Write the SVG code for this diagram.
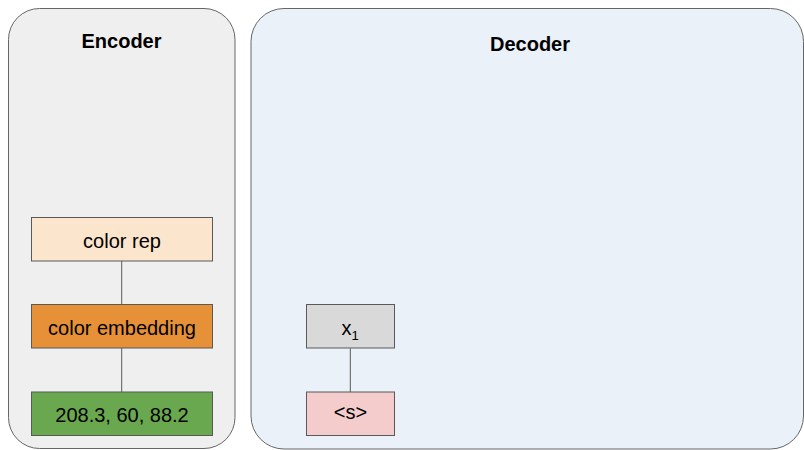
<svg xmlns="http://www.w3.org/2000/svg" width="804" height="450" viewBox="0 0 804 450">
<style>
.panel{stroke:#666666;stroke-width:1}
.box{stroke:#595959;stroke-width:1}
.t{font-family:"Liberation Sans",Arial,sans-serif;font-size:20px;fill:#000;text-anchor:middle}
.h{font-family:"Liberation Sans",Arial,sans-serif;font-size:20px;font-weight:bold;fill:#000;text-anchor:middle}
.c{stroke:#595959;stroke-width:1;fill:none}
</style>
<rect width="804" height="450" fill="#ffffff"/>
<g id="encoder">
<rect class="panel" x="8.5" y="8.5" width="226.5" height="440" rx="31" ry="31" fill="#efefef"/>
<text class="h" x="121.5" y="47.5">Encoder</text>
</g>
<g id="decoder">
<rect class="panel" x="251" y="8.5" width="552.5" height="440.5" rx="33" ry="33" fill="#eaf1f9"/>
<text class="h" x="530" y="50.5">Decoder</text>
</g>
<g id="connectors">
<line class="c" x1="121.7" y1="261" x2="121.7" y2="304.5"/>
<line class="c" x1="121.7" y1="348" x2="121.7" y2="392"/>
<line class="c" x1="350.3" y1="348.3" x2="350.3" y2="392"/>
</g>
<g id="color-rep">
<rect class="box" x="31.5" y="217.5" width="181" height="43.5" fill="#fce5cd"/>
<text class="t" x="122" y="247.5">color rep</text>
</g>
<g id="color-embedding">
<rect class="box" x="31.5" y="304.5" width="181" height="43.5" fill="#e69138"/>
<text class="t" x="122" y="334.5">color embedding</text>
</g>
<g id="input-values">
<rect class="box" x="31.5" y="392" width="181" height="43.5" fill="#6aa84f"/>
<text class="t" x="122" y="421.5">208.3, 60, 88.2</text>
</g>
<g id="x1">
<rect class="box" x="306.5" y="304.5" width="88" height="43.5" fill="#d9d9d9"/>
<text class="t" x="350" y="335">x<tspan font-size="13" dy="5">1</tspan></text>
</g>
<g id="start-token">
<rect class="box" x="306.5" y="392" width="88" height="43.5" fill="#f4cccc"/>
<text class="t" x="350.5" y="419">&lt;s&gt;</text>
</g>
</svg>
